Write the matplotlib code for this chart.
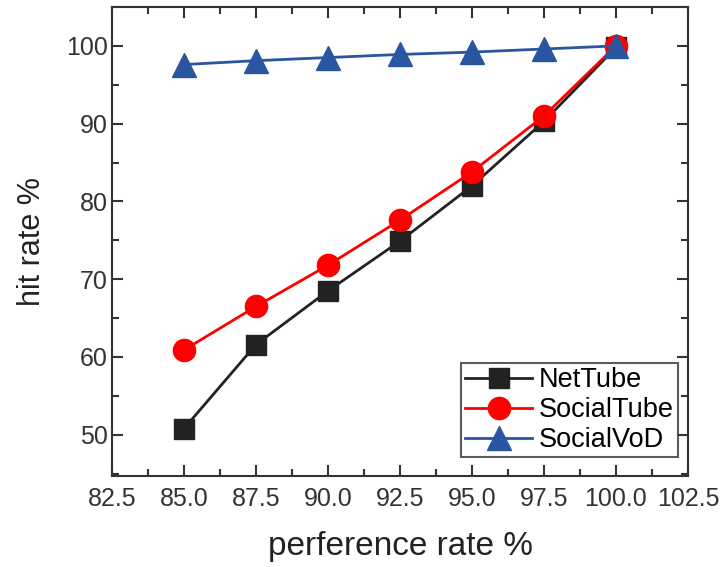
import matplotlib.pyplot as plt
from matplotlib.ticker import MultipleLocator

plt.rcParams['font.family'] = ['Liberation Sans', 'DejaVu Sans']

pref_rate = [85.0, 87.5, 90.0, 92.5, 95.0, 97.5, 100.0]
nettube = [50.8, 61.6, 68.5, 74.9, 82.0, 90.3, 99.8]
socialtube = [60.9, 66.5, 71.8, 77.6, 83.8, 91.0, 100.0]
socialvod = [97.6, 98.1, 98.5, 98.9, 99.2, 99.6, 100.0]

fig = plt.figure(figsize=(7.23, 5.67), dpi=100)
ax = fig.add_axes([112 / 723, 1 - 476 / 567, 576 / 723, 469 / 567])

ax.plot(pref_rate, nettube, color='#222222', lw=2, marker='s', ms=14, label='NetTube')
ax.plot(pref_rate, socialtube, color='#ff0000', lw=2, marker='o', ms=16, label='SocialTube')
ax.plot(pref_rate, socialvod, color='#2a55a0', lw=2, marker='^', ms=17, label='SocialVoD')

ax.set_xlim(82.5, 102.5)
ax.set_ylim(44.7, 105)
ax.xaxis.set_major_locator(MultipleLocator(2.5))
ax.xaxis.set_minor_locator(MultipleLocator(1.25))
ax.yaxis.set_major_locator(MultipleLocator(10))
ax.yaxis.set_minor_locator(MultipleLocator(5))
ax.xaxis.set_major_formatter(plt.FormatStrFormatter('%.1f'))
ax.tick_params(which='both', direction='in', top=True, right=True, colors='#333333',
               labelsize=18, width=1.5)
ax.tick_params(which='major', length=8)
ax.tick_params(axis='x', which='major', pad=8)
ax.tick_params(axis='y', which='major', pad=3)
ax.tick_params(which='minor', length=5)
for s in ax.spines.values():
    s.set_linewidth(1.5)
    s.set_color('#333333')

ax.set_xlabel('perference rate %', fontsize=24, color='#222222', labelpad=14)
ax.set_ylabel('hit rate %', fontsize=22, color='#222222', labelpad=14)

leg = ax.legend(loc='lower right', bbox_to_anchor=(0.983, 0.04), fontsize=19.5,
                frameon=True, fancybox=False, edgecolor='#333333',
                handlelength=2.5, handletextpad=0.25, borderpad=0.15,
                labelspacing=0.15, borderaxespad=0)
leg.get_frame().set_linewidth(1.5)

fig.savefig('out.png', dpi=100)
